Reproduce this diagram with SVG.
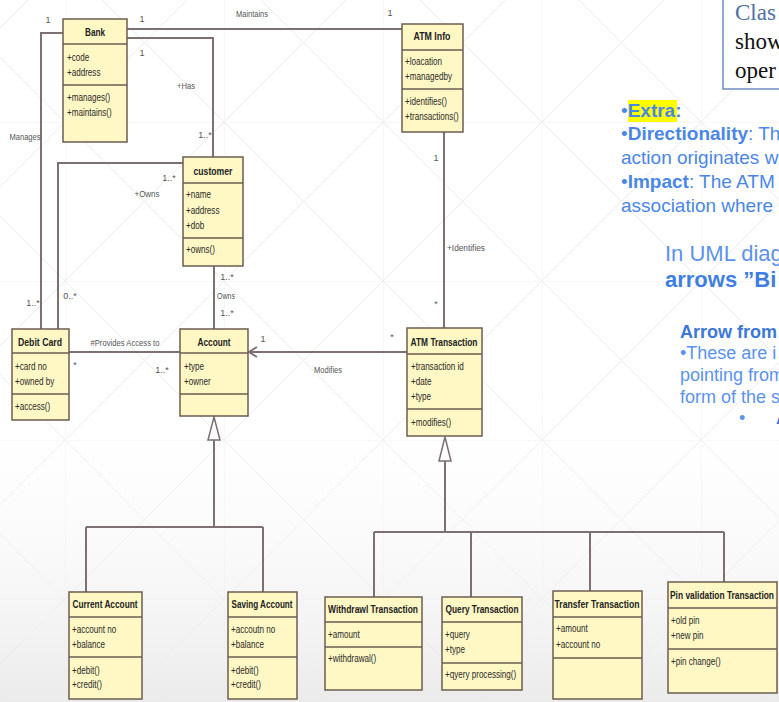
<svg xmlns="http://www.w3.org/2000/svg" width="779" height="702" viewBox="0 0 779 702">
  <defs>
    <pattern id="bgGrid" x="65" y="122" width="159" height="159" patternUnits="userSpaceOnUse">
      <path d="M0 0 L159 159 M159 0 L0 159" stroke="#ececec" stroke-width="1" fill="none"/>
      <path d="M0 0 H159 M0 0 V159" stroke="#f0f0f0" stroke-width="1" fill="none"/>
    </pattern>
    <linearGradient id="bgFade" x1="0" y1="380" x2="0" y2="702" gradientUnits="userSpaceOnUse">
      <stop offset="0" stop-color="#ffffff" stop-opacity="0"/>
      <stop offset="1" stop-color="#ebebeb" stop-opacity="1"/>
    </linearGradient>
  </defs>
  <style>
    .box { fill: #fff8c4; stroke: #6d5d50; stroke-width: 1.5; }
    .sep { stroke: #6d5d50; stroke-width: 1.3; }
    .name { font-family: "Liberation Sans", Arial, sans-serif; font-weight: bold; font-size: 11px; fill: #222; text-anchor: middle; }
    .mem { font-family: "Liberation Sans", Arial, sans-serif; font-size: 10.5px; fill: #2a2a2a; }
    .lbl { font-family: "Liberation Sans", Arial, sans-serif; font-size: 9px; fill: #555; text-anchor: middle; }
    .wire { fill: none; stroke: #7c7070; stroke-width: 2; }
    .tri { fill: #ffffff; stroke: #7c7070; stroke-width: 1.5; }
    .note { font-family: "Liberation Sans", Arial, sans-serif; fill: #4a86e8; }
    .serif { font-family: "Liberation Serif", "Times New Roman", serif; font-size: 23px; }
  </style>

  <!-- background -->
  <rect x="0" y="0" width="779" height="702" fill="#ffffff"/>
  <rect x="0" y="0" width="779" height="702" fill="url(#bgGrid)"/>
  <rect x="0" y="380" width="779" height="322" fill="url(#bgFade)"/>

  <!-- associations and generalizations -->
  <g id="connectors">
    <path class="wire" d="M127 29 H402"/>
    <path class="wire" d="M127 38 H213 V157"/>
    <path class="wire" d="M63 33 H41 V329"/>
    <path class="wire" d="M183 163 H58 V329"/>
    <path class="wire" d="M214 266 V329"/>
    <path class="wire" d="M69 352 H180"/>
    <path class="wire" d="M407 352 H249"/>
    <path class="wire" d="M257 347 L249 352 L257 357" stroke="#8a6a70" stroke-width="1.5"/>
    <path class="wire" d="M444 132 V328"/>
    <!-- Account specialisations -->
    <path class="wire" d="M214 440 V527 M86 527 H263 M86 527 V592 M263 527 V592"/>
    <polygon class="tri" points="214,417 208,440 220,440"/>
    <!-- ATM Transaction specialisations -->
    <path class="wire" d="M445 461 V532 M374 532 H724 M374 532 V597 M471 532 V597 M590 532 V591 M724 532 V582"/>
    <polygon class="tri" points="445,437 439,461 451,461"/>

    <!-- role names and multiplicities -->
    <text class="lbl" x="48" y="23">1</text>
    <text class="lbl" x="142" y="22">1</text>
    <text class="lbl" x="142" y="56">1</text>
    <text class="lbl" x="186" y="89" textLength="18" lengthAdjust="spacingAndGlyphs">+Has</text>
    <text class="lbl" x="205" y="138">1..*</text>
    <text class="lbl" x="252" y="17" textLength="32" lengthAdjust="spacingAndGlyphs">Maintains</text>
    <text class="lbl" x="390" y="16">1</text>
    <text class="lbl" x="25" y="140" textLength="31" lengthAdjust="spacingAndGlyphs">Manages</text>
    <text class="lbl" x="169" y="181">1..*</text>
    <text class="lbl" x="147" y="197" textLength="25" lengthAdjust="spacingAndGlyphs">+Owns</text>
    <text class="lbl" x="227" y="280">1..*</text>
    <text class="lbl" x="226" y="299" textLength="18" lengthAdjust="spacingAndGlyphs">Owns</text>
    <text class="lbl" x="227" y="316">1..*</text>
    <text class="lbl" x="70" y="299">0..*</text>
    <text class="lbl" x="33" y="306">1..*</text>
    <text class="lbl" x="125" y="346" textLength="69" lengthAdjust="spacingAndGlyphs">#Provides Access to</text>
    <text class="lbl" x="75" y="368">*</text>
    <text class="lbl" x="162" y="373">1..*</text>
    <text class="lbl" x="263" y="342">1</text>
    <text class="lbl" x="328" y="373" textLength="28" lengthAdjust="spacingAndGlyphs">Modifies</text>
    <text class="lbl" x="392" y="340">*</text>
    <text class="lbl" x="436" y="307">*</text>
    <text class="lbl" x="466" y="251" textLength="38" lengthAdjust="spacingAndGlyphs">+Identifies</text>
    <text class="lbl" x="436" y="161">1</text>
  </g>

  <!-- member lists are drawn horizontally condensed about their left edge -->
  <g id="bank">
    <rect class="box" x="63" y="19" width="64" height="123"/>
    <line class="sep" x1="63" y1="44" x2="127" y2="44"/>
    <line class="sep" x1="63" y1="85" x2="127" y2="85"/>
    <text class="name" x="95" y="36" textLength="20" lengthAdjust="spacingAndGlyphs">Bank</text>
    <g transform="matrix(0.77 0 0 1 15.41 0)">
      <text class="mem" x="67" y="61">+code</text>
      <text class="mem" x="67" y="76">+address</text>
      <text class="mem" x="67" y="101">+manages()</text>
      <text class="mem" x="67" y="116">+maintains()</text>
    </g>
  </g>

  <g id="atm-info">
    <rect class="box" x="402" y="24" width="61" height="108"/>
    <line class="sep" x1="402" y1="50" x2="463" y2="50"/>
    <line class="sep" x1="402" y1="89" x2="463" y2="89"/>
    <text class="name" x="432" y="40" textLength="37" lengthAdjust="spacingAndGlyphs">ATM Info</text>
    <g transform="matrix(0.77 0 0 1 93.15 0)">
      <text class="mem" x="405" y="65">+loacation</text>
      <text class="mem" x="405" y="80">+managedby</text>
      <text class="mem" x="405" y="105">+identifies()</text>
      <text class="mem" x="405" y="120">+transactions()</text>
    </g>
  </g>

  <g id="customer">
    <rect class="box" x="183" y="157" width="60" height="109"/>
    <line class="sep" x1="183" y1="183" x2="243" y2="183"/>
    <line class="sep" x1="183" y1="238" x2="243" y2="238"/>
    <text class="name" x="213" y="175" textLength="39" lengthAdjust="spacingAndGlyphs">customer</text>
    <g transform="matrix(0.77 0 0 1 42.78 0)">
      <text class="mem" x="186" y="198">+name</text>
      <text class="mem" x="186" y="214">+address</text>
      <text class="mem" x="186" y="229">+dob</text>
      <text class="mem" x="186" y="253">+owns()</text>
    </g>
  </g>

  <g id="debit-card">
    <rect class="box" x="12" y="329" width="57" height="91"/>
    <line class="sep" x1="12" y1="353" x2="69" y2="353"/>
    <line class="sep" x1="12" y1="394" x2="69" y2="394"/>
    <text class="name" x="40" y="346" textLength="44" lengthAdjust="spacingAndGlyphs">Debit Card</text>
    <g transform="matrix(0.77 0 0 1 3.45 0)">
      <text class="mem" x="15" y="370">+card no</text>
      <text class="mem" x="15" y="385">+owned by</text>
      <text class="mem" x="15" y="410">+access()</text>
    </g>
  </g>

  <g id="account">
    <rect class="box" x="180" y="329" width="68" height="87"/>
    <line class="sep" x1="180" y1="353" x2="248" y2="353"/>
    <line class="sep" x1="180" y1="394" x2="248" y2="394"/>
    <text class="name" x="214" y="346" textLength="33" lengthAdjust="spacingAndGlyphs">Account</text>
    <g transform="matrix(0.77 0 0 1 42.32 0)">
      <text class="mem" x="184" y="370">+type</text>
      <text class="mem" x="184" y="385">+owner</text>
    </g>
  </g>

  <g id="atm-transaction">
    <rect class="box" x="407" y="328" width="75" height="108"/>
    <line class="sep" x1="407" y1="354" x2="482" y2="354"/>
    <line class="sep" x1="407" y1="409" x2="482" y2="409"/>
    <text class="name" x="444" y="346" textLength="67" lengthAdjust="spacingAndGlyphs">ATM Transaction</text>
    <g transform="matrix(0.77 0 0 1 94.53 0)">
      <text class="mem" x="411" y="370">+transaction id</text>
      <text class="mem" x="411" y="385">+date</text>
      <text class="mem" x="411" y="400">+type</text>
      <text class="mem" x="411" y="426">+modifies()</text>
    </g>
  </g>

  <g id="current-account">
    <rect class="box" x="69" y="592" width="73" height="107"/>
    <line class="sep" x1="69" y1="617" x2="142" y2="617"/>
    <line class="sep" x1="69" y1="657" x2="142" y2="657"/>
    <text class="name" x="105" y="608" textLength="65" lengthAdjust="spacingAndGlyphs">Current Account</text>
    <g transform="matrix(0.77 0 0 1 16.56 0)">
      <text class="mem" x="72" y="633">+account no</text>
      <text class="mem" x="72" y="648">+balance</text>
      <text class="mem" x="72" y="674">+debit()</text>
      <text class="mem" x="72" y="688">+credit()</text>
    </g>
  </g>

  <g id="saving-account">
    <rect class="box" x="228" y="592" width="69" height="107"/>
    <line class="sep" x1="228" y1="617" x2="297" y2="617"/>
    <line class="sep" x1="228" y1="657" x2="297" y2="657"/>
    <text class="name" x="262" y="608" textLength="61" lengthAdjust="spacingAndGlyphs">Saving Account</text>
    <g transform="matrix(0.77 0 0 1 53.13 0)">
      <text class="mem" x="231" y="633">+accoutn no</text>
      <text class="mem" x="231" y="648">+balance</text>
      <text class="mem" x="231" y="674">+debit()</text>
      <text class="mem" x="231" y="688">+credit()</text>
    </g>
  </g>

  <g id="withdrawl-transaction">
    <rect class="box" x="325" y="597" width="97" height="93"/>
    <line class="sep" x1="325" y1="622" x2="422" y2="622"/>
    <line class="sep" x1="325" y1="647" x2="422" y2="647"/>
    <text class="name" x="373" y="613" textLength="90" lengthAdjust="spacingAndGlyphs">Withdrawl Transaction</text>
    <g transform="matrix(0.77 0 0 1 75.44 0)">
      <text class="mem" x="328" y="638">+amount</text>
      <text class="mem" x="328" y="662">+withdrawal()</text>
    </g>
  </g>

  <g id="query-transaction">
    <rect class="box" x="442" y="597" width="80" height="93"/>
    <line class="sep" x1="442" y1="622" x2="522" y2="622"/>
    <line class="sep" x1="442" y1="663" x2="522" y2="663"/>
    <text class="name" x="482" y="613" textLength="73" lengthAdjust="spacingAndGlyphs">Query Transaction</text>
    <g transform="matrix(0.77 0 0 1 102.35 0)">
      <text class="mem" x="445" y="638">+query</text>
      <text class="mem" x="445" y="653">+type</text>
      <text class="mem" x="445" y="678">+qyery processing()</text>
    </g>
  </g>

  <g id="transfer-transaction">
    <rect class="box" x="553" y="591" width="89" height="108"/>
    <line class="sep" x1="553" y1="617" x2="642" y2="617"/>
    <line class="sep" x1="553" y1="658" x2="642" y2="658"/>
    <text class="name" x="597" y="608" textLength="85" lengthAdjust="spacingAndGlyphs">Transfer Transaction</text>
    <g transform="matrix(0.77 0 0 1 127.88 0)">
      <text class="mem" x="556" y="632">+amount</text>
      <text class="mem" x="556" y="648">+account no</text>
    </g>
  </g>

  <g id="pin-validation-transaction">
    <rect class="box" x="668" y="582" width="109" height="111"/>
    <line class="sep" x1="668" y1="608" x2="777" y2="608"/>
    <line class="sep" x1="668" y1="649" x2="777" y2="649"/>
    <text class="name" x="722" y="599" textLength="104" lengthAdjust="spacingAndGlyphs">Pin validation Transaction</text>
    <g transform="matrix(0.77 0 0 1 154.33 0)">
      <text class="mem" x="671" y="624">+old pin</text>
      <text class="mem" x="671" y="639">+new pin</text>
      <text class="mem" x="671" y="665">+pin change()</text>
    </g>
  </g>

  <!-- side notes -->
  <g id="note-box">
    <rect x="723" y="-2" width="70" height="91" fill="#ffffff" stroke="#4f6fb0" stroke-width="1.2"/>
    <text class="serif" x="735" y="20" fill="#4f6fa8">Clas</text>
    <text class="serif" x="735" y="49" fill="#111">show</text>
    <text class="serif" x="735" y="78" fill="#111">oper</text>
  </g>

  <g id="note-extra" class="note" font-size="19px">
    <rect x="628" y="100" width="49" height="22" fill="#ffff00"/>
    <text x="621" y="117">•<tspan font-weight="bold">Extra:</tspan></text>
    <text x="621" y="140">•<tspan font-weight="bold">Directionality</tspan>: Th</text>
    <text x="621" y="164">action originates w</text>
    <text x="621" y="188">•<tspan font-weight="bold">Impact</tspan>: The ATM</text>
    <text x="621" y="212">association where</text>
  </g>

  <g id="note-arrows" class="note">
    <text x="665" y="261" font-size="22px" fill="#5b92ee">In UML diag</text>
    <text x="665" y="287" font-size="22px" font-weight="bold" fill="#3f7fe4">arrows ”Bi</text>
    <text x="680" y="338" font-size="18px" font-weight="bold" fill="#3c78d8">Arrow from</text>
    <text x="680" y="359" font-size="18px" fill="#5b92ee">•These are i</text>
    <text x="680" y="381" font-size="18px" fill="#5b92ee">pointing from</text>
    <text x="680" y="403" font-size="18px" fill="#5b92ee">form of the s</text>
    <text x="739" y="424" font-size="18px" fill="#5b92ee">•</text>
    <text x="776" y="424" font-size="18px" font-weight="bold" fill="#3c78d8">A</text>
  </g>
</svg>
